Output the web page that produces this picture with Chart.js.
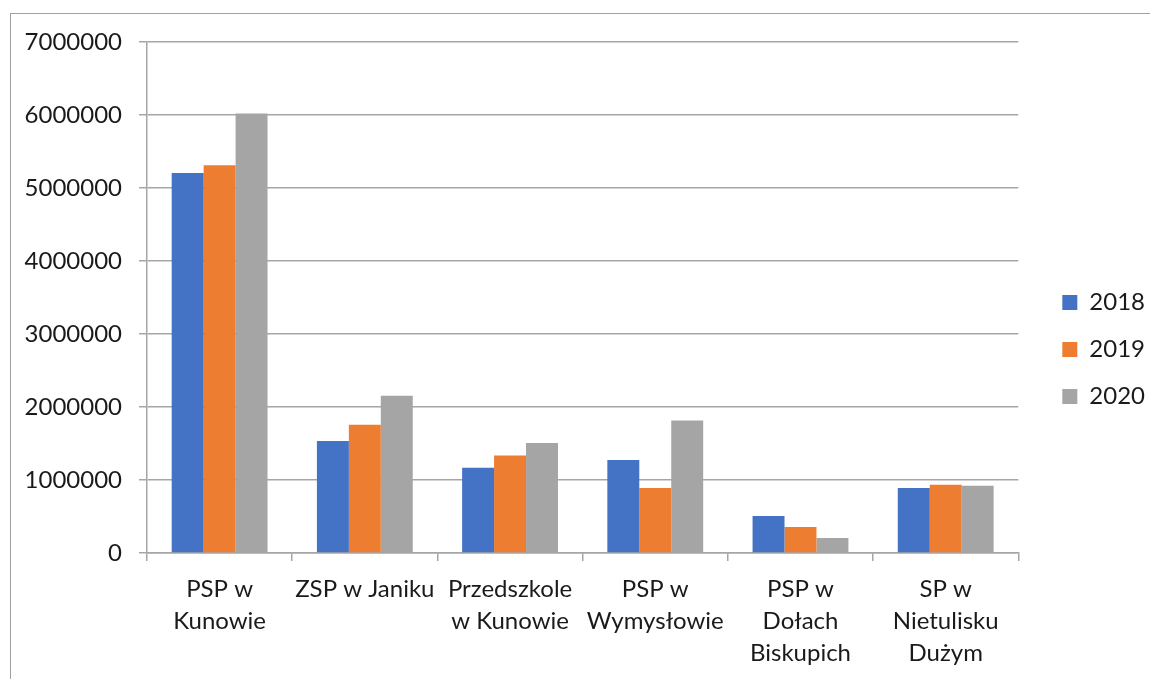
<!DOCTYPE html>
<html>
<head>
    <meta charset='utf-8'>
    <title>Wydatki szkół</title>
    <script src='https://cdn.jsdelivr.net/npm/chart.js@4.4.0/dist/chart.umd.min.js'></script>
    <style>
        html, body { margin: 0; padding: 0; background: #fff; overflow: hidden; }
        #frame { position: absolute; left: 10px; top: 13px; width: 1300px; height: 800px; border: 1px solid #a0a0a0; }
        #wrap { position: absolute; left: 0; top: 0; width: 1150px; height: 679px; }
    </style>
</head>
<body>
<div id="frame"></div>
<div id="wrap"><canvas id="myChart" width="1150" height="679"></canvas></div>
<script>
const categories = [
    ['PSP w', 'Kunowie'],
    ['ZSP w Janiku'],
    ['Przedszkole', 'w Kunowie'],
    ['PSP w', 'Wymysłowie'],
    ['PSP w', 'Dołach', 'Biskupich'],
    ['SP w', 'Nietulisku', 'Dużym']
];
const years = ['2018', '2019', '2020'];
const values2018 = [5205000, 1534000, 1168000, 1274000, 507000, 890000];
const values2019 = [5310000, 1757000, 1337000, 890000, 356000, 936000];
const values2020 = [6020000, 2155000, 1507000, 1816000, 205000, 922000];
const colors = ['#4472c4', '#ed7d31', '#a5a5a5'];

const fontFamily = 'Lato, "Open Sans", sans-serif';
const textColor = '#1a1a1a';
const gridColor = '#a6a6a6';

// nudge the legend to where it sits in the original (further right, a bit higher)
const legendNudge = {
    id: 'legendNudge',
    afterLayout(chart) {
        const lg = chart.legend;
        if (!lg) return;
        lg.left += 21; lg.right += 21;
        lg.top -= 11; lg.bottom -= 11;
    }
};

const ctx = document.getElementById('myChart').getContext('2d');
const myChart = new Chart(ctx, {
    type: 'bar',
    data: {
        labels: categories,
        datasets: [values2018, values2019, values2020].map((vals, i) => ({
            label: years[i],
            data: vals,
            backgroundColor: colors[i],
            borderWidth: 0,
            categoryPercentage: 0.66,
            barPercentage: 1.0
        }))
    },
    options: {
        responsive: false,
        animation: false,
        layout: { padding: { left: 20, top: 42, right: 16, bottom: 0 } },
        plugins: {
            tooltip: { enabled: false },
            legend: {
                position: 'right',
                align: 'center',
                labels: {
                    boxWidth: 15,
                    boxHeight: 15,
                    padding: 23,
                    color: textColor,
                    font: { family: fontFamily, size: 24 }
                }
            }
        },
        scales: {
            x: {
                afterFit: s => { s.height = 126; },
                grid: {
                    drawOnChartArea: false,
                    drawTicks: true,
                    tickLength: 8,
                    color: gridColor,
                    lineWidth: 1.5
                },
                border: { display: true, color: gridColor, width: 1.5 },
                ticks: {
                    color: textColor,
                    padding: 12,
                    maxRotation: 0,
                    autoSkip: false,
                    font: { family: fontFamily, size: 24, lineHeight: 1.33 }
                }
            },
            y: {
                min: 0,
                max: 7000000,
                afterFit: s => { s.width = 127; },
                grid: {
                    color: gridColor,
                    lineWidth: 1.5,
                    tickLength: 8
                },
                border: { display: true, color: gridColor, width: 1.5 },
                ticks: {
                    stepSize: 1000000,
                    color: textColor,
                    padding: 17,
                    font: { family: fontFamily, size: 24 },
                    callback: v => String(v)
                }
            }
        }
    },
    plugins: [legendNudge]
});
</script>
</body>
</html>
